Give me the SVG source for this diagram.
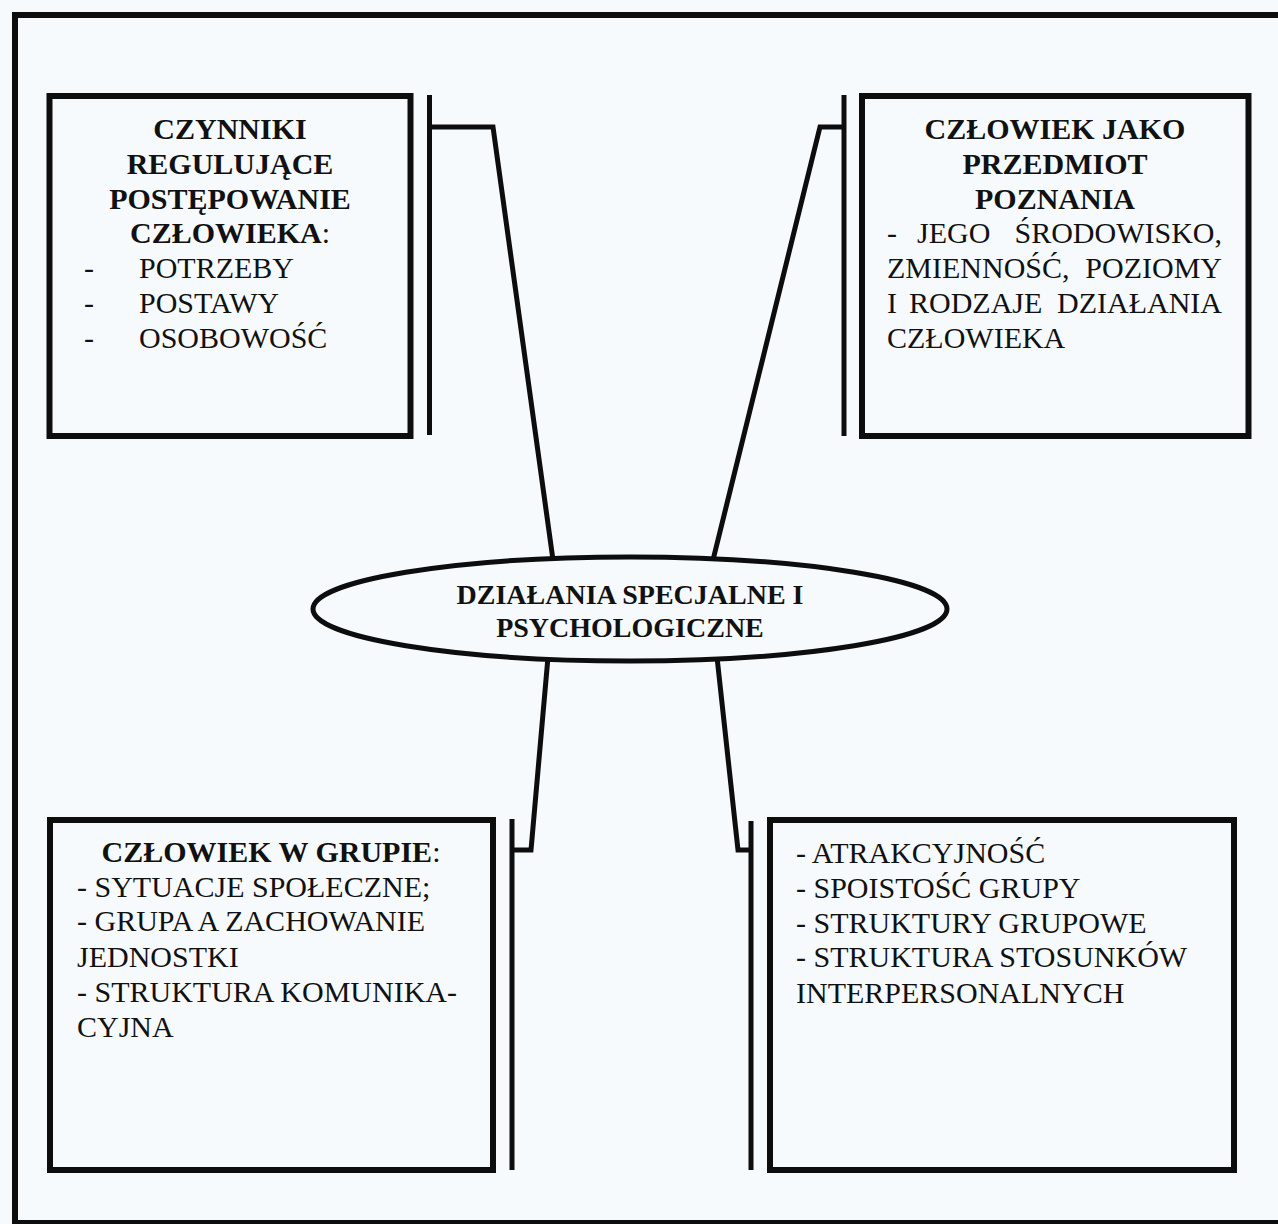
<svg xmlns="http://www.w3.org/2000/svg" width="1278" height="1224" viewBox="0 0 1278 1224">
  <style>
    .frame { fill: none; stroke: #0d0d0d; stroke-width: 6; }
    .box { fill: none; stroke: #0d0d0d; stroke-width: 6; }
    .bar { stroke: #0d0d0d; stroke-width: 5; fill: none; }
    .link { fill: none; stroke: #0d0d0d; stroke-width: 5; stroke-linejoin: miter; }
    text { font-family: "Liberation Serif", "Times New Roman", serif; font-size: 30px; fill: #111; }
    .b { font-weight: bold; }
    .c { text-anchor: middle; }
    .e { text-anchor: end; }
  </style>

  <!-- page background and outer frame -->
  <rect x="0" y="0" width="1278" height="1224" fill="#f6fafc"/>
  <rect class="frame" x="15" y="15" width="1300" height="1208"/>

  <!-- connectors from the central ellipse to the bracket bars -->
  <g id="connectors">
    <line class="bar" x1="429.5" y1="95" x2="429.5" y2="435"/>
    <line class="bar" x1="844" y1="95" x2="844" y2="436"/>
    <line class="bar" x1="512" y1="819" x2="512" y2="1170"/>
    <line class="bar" x1="751" y1="821" x2="751" y2="1170"/>
    <path class="link" d="M429.5 127 H493 L553 560"/>
    <path class="link" d="M844 127 H820 L713 560"/>
    <path class="link" d="M548 657 L531 850 H512"/>
    <path class="link" d="M717 657 L738 850 H751"/>
  </g>

  <!-- central node -->
  <g id="center">
    <ellipse cx="630" cy="609" rx="317" ry="52" fill="#f6fafc" stroke="#0d0d0d" stroke-width="5"/>
    <text class="b c" x="630" y="604" style="font-size:28px">DZIAŁANIA SPECJALNE I</text>
    <text class="b c" x="630" y="637" style="font-size:28px">PSYCHOLOGICZNE</text>
  </g>

  <!-- top-left node -->
  <g id="factors">
    <rect class="box" x="49.5" y="96" width="361" height="340"/>
    <text class="b c" x="230" y="139">CZYNNIKI</text>
    <text class="b c" x="230" y="174">REGULUJĄCE</text>
    <text class="b c" x="230" y="209">POSTĘPOWANIE</text>
    <text class="c" x="230" y="243"><tspan class="b">CZŁOWIEKA</tspan>:</text>
    <text x="84" y="278">-</text><text x="139" y="278">POTRZEBY</text>
    <text x="84" y="313">-</text><text x="139" y="313">POSTAWY</text>
    <text x="84" y="348">-</text><text x="139" y="348">OSOBOWOŚĆ</text>
  </g>

  <!-- top-right node -->
  <g id="human-object">
    <rect class="box" x="862" y="96" width="386.5" height="340"/>
    <text class="b c" x="1055" y="139">CZŁOWIEK JAKO</text>
    <text class="b c" x="1055" y="174">PRZEDMIOT</text>
    <text class="b c" x="1055" y="209">POZNANIA</text>
    <text x="887" y="243">-</text><text x="917" y="243">JEGO</text><text class="e" x="1222" y="243">ŚRODOWISKO,</text>
    <text x="887" y="278">ZMIENNOŚĆ,</text><text class="e" x="1222" y="278">POZIOMY</text>
    <text x="887" y="313">I</text><text x="909" y="313">RODZAJE</text><text class="e" x="1222" y="313">DZIAŁANIA</text>
    <text x="887" y="348">CZŁOWIEKA</text>
  </g>

  <!-- bottom-left node -->
  <g id="group-member">
    <rect class="box" x="50" y="820" width="443" height="350"/>
    <text class="c" x="271" y="862"><tspan class="b">CZŁOWIEK W GRUPIE</tspan>:</text>
    <text x="77" y="897">- SYTUACJE SPOŁECZNE;</text>
    <text x="77" y="931">- GRUPA A ZACHOWANIE</text>
    <text x="77" y="967">JEDNOSTKI</text>
    <text x="77" y="1002">- STRUKTURA KOMUNIKA-</text>
    <text x="77" y="1037">CYJNA</text>
  </g>

  <!-- bottom-right node -->
  <g id="group-structure">
    <rect class="box" x="770" y="820" width="464" height="350"/>
    <text x="796" y="863">- ATRAKCYJNOŚĆ</text>
    <text x="796" y="898">- SPOISTOŚĆ GRUPY</text>
    <text x="796" y="933">- STRUKTURY GRUPOWE</text>
    <text x="796" y="967">- STRUKTURA STOSUNKÓW</text>
    <text x="796" y="1003">INTERPERSONALNYCH</text>
  </g>
</svg>
